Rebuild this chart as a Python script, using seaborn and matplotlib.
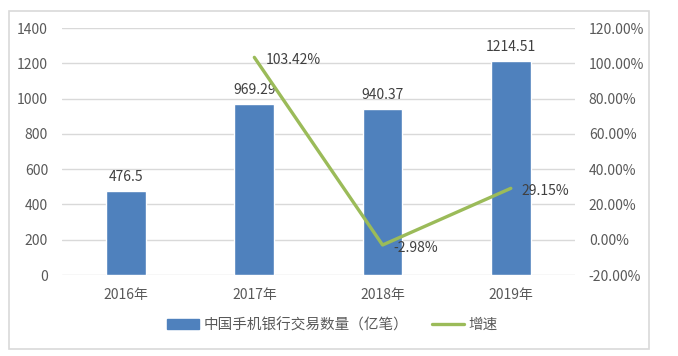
import matplotlib
matplotlib.use("Agg")
import matplotlib.pyplot as plt
import seaborn as sns
import pandas as pd
from matplotlib.patches import Rectangle
from matplotlib.lines import Line2D
from matplotlib.ticker import FuncFormatter

sns.set_style("white")
plt.rcParams['font.family'] = ['Noto Sans CJK SC', 'DejaVu Sans']

years = ['2016年', '2017年', '2018年', '2019年']
volumes = [476.5, 969.29, 940.37, 1214.51]
growth = [None, 103.42, -2.98, 29.15]

bar_color = '#4F81BD'
line_color = '#9BBB59'
text_color = '#595959'

df = pd.DataFrame({'year': years, 'volume': volumes, 'growth': growth})

fig = plt.figure(figsize=(6.78, 3.56), dpi=100)
ax = fig.add_axes([0.0914, 0.2275, 0.7566, 0.6935])

# outer chart border
fig.patches.append(Rectangle((0.0133, 0.0197), 0.944, 0.949, transform=fig.transFigure,
                             fill=False, edgecolor='#D9D9D9', linewidth=1.2))

sns.barplot(data=df, x='year', y='volume', color=bar_color, width=0.31,
            saturation=1, ax=ax, zorder=2)
ax.set_ylim(0, 1400)
ax.set_yticks(range(0, 1401, 200))
ax.grid(axis='y', color='#D9D9D9', linewidth=1, zorder=0)
ax.set_axisbelow(True)
for s in ax.spines.values():
    s.set_visible(False)
ax.set_xlabel('')
ax.set_ylabel('')
ax.tick_params(axis='y', length=0, pad=10, labelsize=10, labelcolor=text_color)
ax.tick_params(axis='x', length=0, pad=9, labelsize=10, labelcolor=text_color)
for c in ax.containers:
    ax.bar_label(c, labels=[f'{v:g}' for v in volumes], padding=5,
                 fontsize=10, color='#404040')

ax2 = ax.twinx()
gdf = df.dropna()
sns.lineplot(data=gdf, x='year', y='growth', color=line_color, linewidth=2.4, ax=ax2)
ax2.set_ylim(-20, 120)
ax2.set_yticks(range(-20, 121, 20))
ax2.yaxis.set_major_formatter(FuncFormatter(lambda v, p: f'{v:.2f}%'))
ax2.tick_params(axis='y', length=0, pad=10, labelsize=10, labelcolor=text_color)
for s in ax2.spines.values():
    s.set_visible(False)
ax2.set_ylabel('')
for i, g in enumerate(growth):
    if g is None:
        continue
    ax2.annotate(f'{g:.2f}%', (i, g), xytext=(8, -2), textcoords='offset points',
                 va='center', ha='left', fontsize=10, color='#404040')
ax.set_xlim(-0.5, len(years) - 0.5)

handles = [Rectangle((0, 0), 1, 1, color=bar_color),
           Line2D([0], [0], color=line_color, linewidth=2.4)]
fig.legend(handles, ['中国手机银行交易数量（亿笔）', '增速'], loc='center',
           bbox_to_anchor=(0.49, 0.087), ncol=2, frameon=False, fontsize=10.5,
           labelcolor=text_color, handlelength=2.2, columnspacing=1.6, handletextpad=0.3)

fig.savefig('out.png', dpi=100)
